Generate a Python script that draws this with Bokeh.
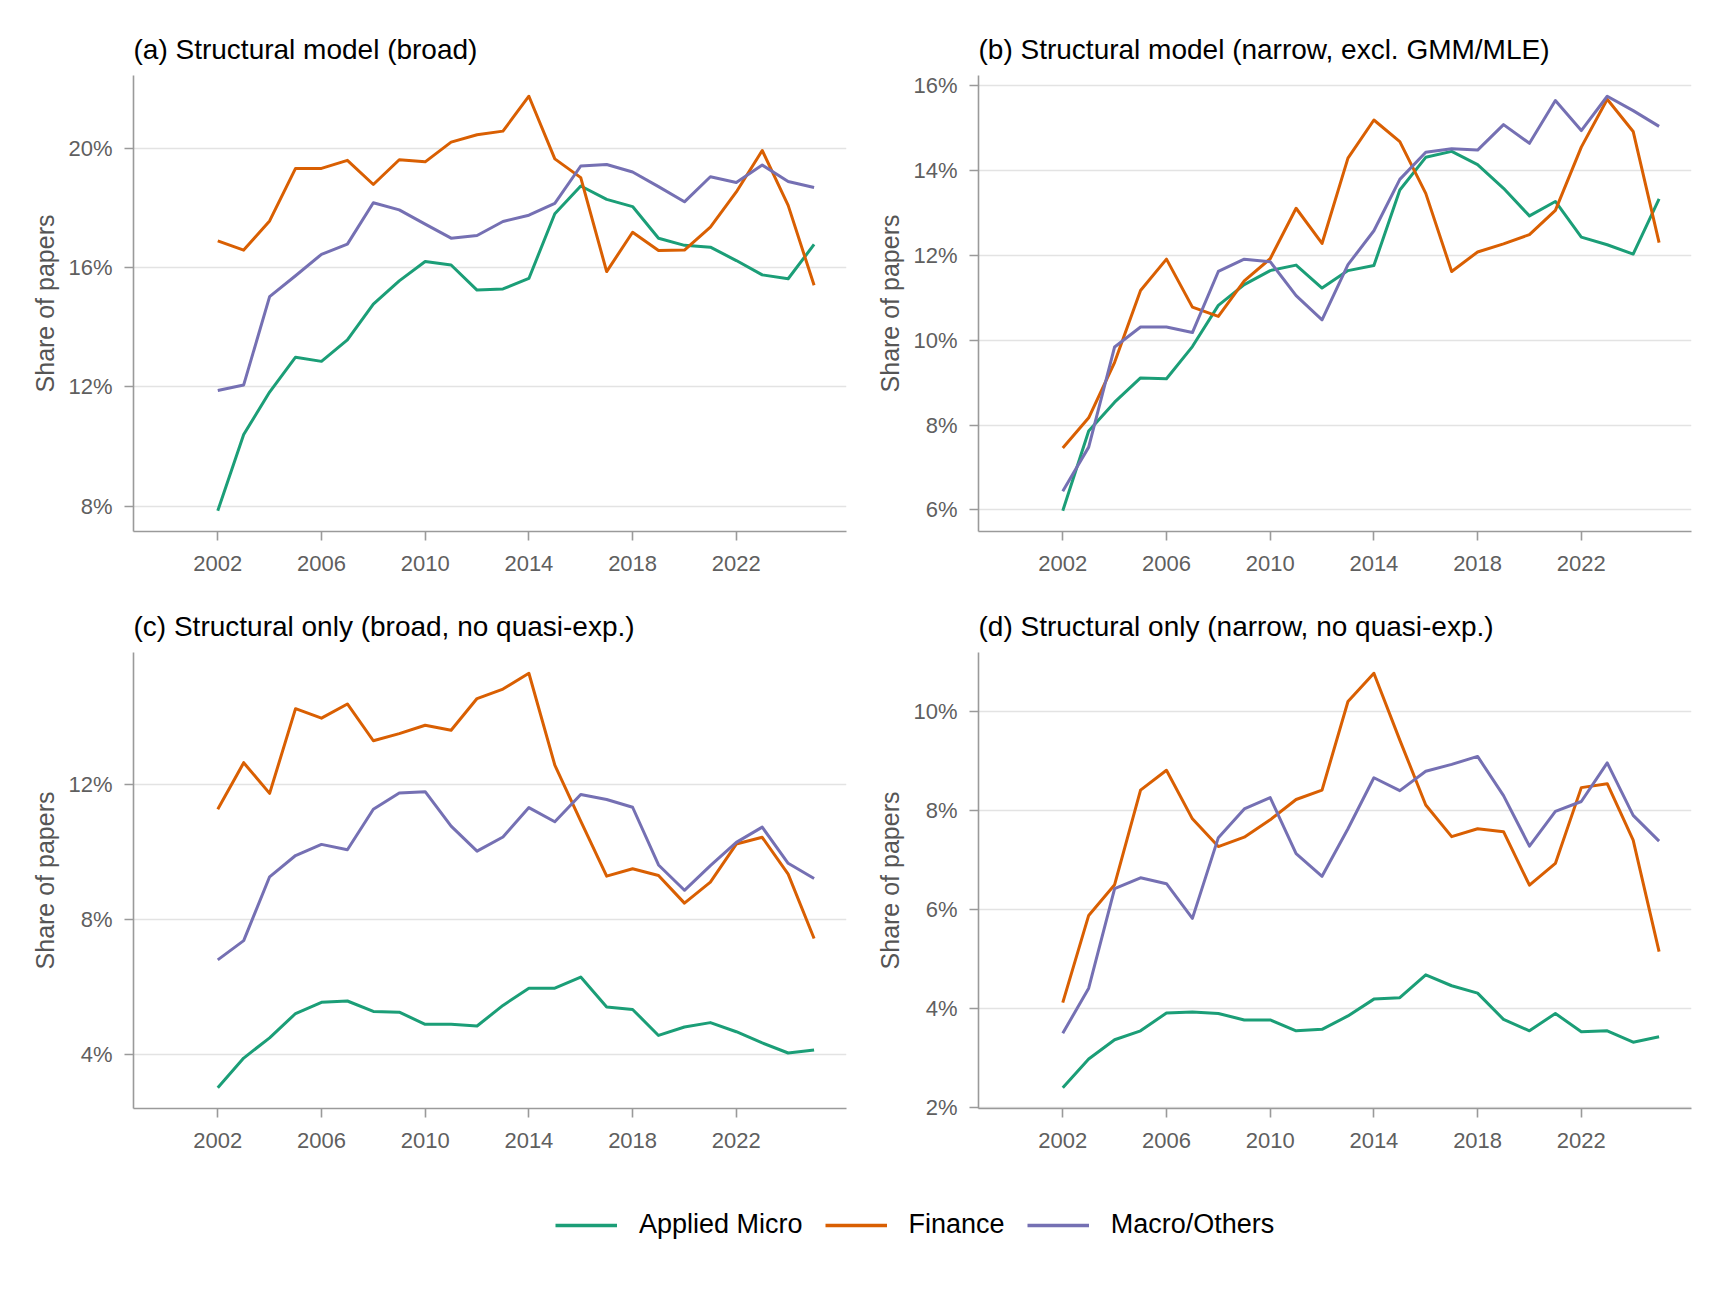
from bokeh.plotting import figure
from bokeh.layouts import column, row
from bokeh.models import (Range1d, FixedTicker, PrintfTickFormatter, Legend, LegendItem)
from bokeh.embed import file_html
from bokeh.resources import INLINE

# ---------------- data ----------------
years = list(range(2002, 2026))
series_names = ["Applied Micro", "Finance", "Macro/Others"]
colors = ["#1B9E77", "#D95F02", "#7570B3"]

a_micro = [7.84, 10.40, 11.82, 12.99, 12.85, 13.57, 14.77, 15.55, 16.20, 16.08, 15.24, 15.28,
           15.63, 17.80, 18.73, 18.28, 18.04, 16.98, 16.74, 16.68, 16.23, 15.75, 15.62, 16.77]
a_fin = [16.89, 16.58, 17.56, 19.32, 19.32, 19.59, 18.78, 19.61, 19.54, 20.20, 20.45, 20.57,
         21.74, 19.64, 19.01, 15.86, 17.18, 16.57, 16.58, 17.35, 18.53, 19.92, 18.08, 15.40]
a_mac = [11.87, 12.06, 15.02, 15.72, 16.44, 16.78, 18.17, 17.93, 17.45, 16.98, 17.07, 17.54,
         17.75, 18.15, 19.40, 19.45, 19.20, 18.71, 18.20, 19.04, 18.85, 19.43, 18.88, 18.68]

b_micro = [5.98, 7.86, 8.54, 9.11, 9.09, 9.85, 10.82, 11.31, 11.64, 11.77, 11.23, 11.64,
           11.76, 13.54, 14.31, 14.45, 14.14, 13.58, 12.93, 13.27, 12.43, 12.25, 12.03, 13.33]
b_fin = [7.46, 8.17, 9.48, 11.17, 11.91, 10.78, 10.56, 11.40, 11.92, 13.11, 12.28, 14.29,
         15.19, 14.68, 13.46, 11.62, 12.08, 12.27, 12.49, 13.06, 14.55, 15.68, 14.92, 12.30]
b_mac = [6.44, 7.48, 9.84, 10.31, 10.31, 10.18, 11.62, 11.91, 11.85, 11.05, 10.48, 11.78,
         12.58, 13.79, 14.43, 14.51, 14.48, 15.08, 14.64, 15.65, 14.94, 15.75, 15.41, 15.04]

c_micro = [3.02, 3.90, 4.50, 5.22, 5.55, 5.59, 5.28, 5.26, 4.90, 4.90, 4.85, 5.46,
           5.97, 5.97, 6.30, 5.41, 5.34, 4.57, 4.82, 4.95, 4.68, 4.35, 4.05, 4.14]
c_fin = [11.27, 12.65, 11.74, 14.25, 13.97, 14.39, 13.30, 13.51, 13.76, 13.61, 14.55, 14.83,
         15.30, 12.58, 10.92, 9.29, 9.51, 9.31, 8.49, 9.11, 10.24, 10.44, 9.35, 7.44]
c_mac = [6.81, 7.38, 9.27, 9.90, 10.23, 10.07, 11.27, 11.75, 11.79, 10.77, 10.03, 10.45,
         11.32, 10.90, 11.71, 11.56, 11.33, 9.62, 8.87, 9.60, 10.29, 10.74, 9.67, 9.22]

d_micro = [2.40, 2.98, 3.37, 3.55, 3.91, 3.93, 3.90, 3.77, 3.77, 3.55, 3.58, 3.85,
           4.19, 4.22, 4.68, 4.46, 4.31, 3.78, 3.55, 3.90, 3.53, 3.55, 3.32, 3.43]
d_fin = [4.12, 5.88, 6.50, 8.41, 8.81, 7.83, 7.27, 7.46, 7.81, 8.22, 8.41, 10.20,
         10.77, 9.42, 8.11, 7.47, 7.63, 7.57, 6.49, 6.93, 8.46, 8.54, 7.40, 5.15]
d_mac = [3.50, 4.41, 6.42, 6.64, 6.52, 5.82, 7.45, 8.03, 8.26, 7.13, 6.67, 7.63,
         8.66, 8.40, 8.79, 8.93, 9.09, 8.30, 7.28, 7.98, 8.18, 8.96, 7.90, 7.38]

titles = ["(a) Structural model (broad)",
          "(b) Structural model (narrow, excl. GMM/MLE)",
          "(c) Structural only (broad, no quasi-exp.)",
          "(d) Structural only (narrow, no quasi-exp.)"]
x_ticks = [2002, 2006, 2010, 2014, 2018, 2022]
y_ticks = [[8, 12, 16, 20], [6, 8, 10, 12, 14, 16], [4, 8, 12], [2, 4, 6, 8, 10]]
panel_data = [[a_micro, a_fin, a_mac], [b_micro, b_fin, b_mac],
              [c_micro, c_fin, c_mac], [d_micro, d_fin, d_mac]]
x_limits = (2000, 2025)
y_axis_label = "Share of papers"

FONT = "Liberation Sans"
AXIS_COL = "#9A9A9A"
TEXT_GRAY = "#5F5F5F"


def make_panel(idx, left_border, right_border, top_border):
    data = panel_data[idx]
    allv = [v for s in data for v in s]
    lo, hi = min(allv), max(allv)
    pad = 0.05 * (hi - lo)
    xpad = 0.05 * (x_limits[1] - x_limits[0])
    p = figure(frame_width=713, frame_height=456,
               x_range=Range1d(x_limits[0] - xpad, x_limits[1] + xpad),
               y_range=Range1d(lo - pad, hi + pad),
               toolbar_location=None, output_backend="svg",
               min_border_left=left_border, min_border_right=right_border,
               min_border_top=top_border, min_border_bottom=54,
               background_fill_color="white", border_fill_color="white",
               outline_line_color=None)
    p.title.text = titles[idx]
    p.title.text_font = FONT
    p.title.text_font_size = "28px"
    p.title.text_font_style = "normal"
    p.title.text_color = "black"
    p.title.align = "left"
    p.title.standoff = 22

    for series, col in zip(data, colors):
        p.line(years, series, line_color=col, line_width=3, line_join="round")

    p.xaxis.ticker = FixedTicker(ticks=x_ticks)
    p.yaxis.ticker = FixedTicker(ticks=y_ticks[idx])
    p.yaxis.formatter = PrintfTickFormatter(format="%d%%")
    for ax in (p.xaxis, p.yaxis):
        ax.axis_line_color = AXIS_COL
        ax.axis_line_width = 1.6
        ax.major_tick_line_color = AXIS_COL
        ax.major_tick_line_width = 1.6
        ax.major_tick_out = 9
        ax.major_tick_in = 0
        ax.minor_tick_line_color = None
        ax.major_label_text_font = FONT
        ax.major_label_text_font_size = "22px"
        ax.major_label_text_color = TEXT_GRAY
    p.yaxis.major_label_standoff = 12
    p.xaxis.major_label_standoff = 15
    p.yaxis.axis_label = y_axis_label
    p.yaxis.axis_label_text_font = FONT
    p.yaxis.axis_label_text_font_size = "25px"
    p.yaxis.axis_label_text_font_style = "normal"
    p.yaxis.axis_label_text_color = "#555555"
    p.yaxis.axis_label_standoff = 6
    p.xgrid.grid_line_color = None
    p.ygrid.grid_line_color = "#E3E3E3"
    p.ygrid.grid_line_width = 1.6
    return p


pa = make_panel(0, 133, 7, 75)
pb = make_panel(1, 125, 12, 75)
pc = make_panel(2, 133, 7, 67)
pd = make_panel(3, 125, 12, 67)

# legend strip (series drawn outside the visible range; only the legend shows)
pl = figure(width=1723, height=110, toolbar_location=None, output_backend="svg",
            x_range=Range1d(0, 1), y_range=Range1d(0, 1), min_border=0,
            outline_line_color=None)
pl.axis.visible = False
pl.grid.visible = False
items = []
for name, col, series in zip(series_names, colors, panel_data[0]):
    r = pl.line(years, series, line_color=col, line_width=3.4)
    items.append(LegendItem(label=name, renderers=[r]))
leg = Legend(items=items, orientation="horizontal", location=(555, 32),
             glyph_width=62, glyph_height=30, label_standoff=22, spacing=22,
             padding=0, margin=0, border_line_color=None, background_fill_alpha=0,
             label_text_font=FONT, label_text_font_size="27px", label_text_color="black",
             label_height=30)
pl.add_layout(leg, "center")

layout = column(row(pa, pb), row(pc, pd), pl)
open("out.html", "w").write(file_html(layout, INLINE))
